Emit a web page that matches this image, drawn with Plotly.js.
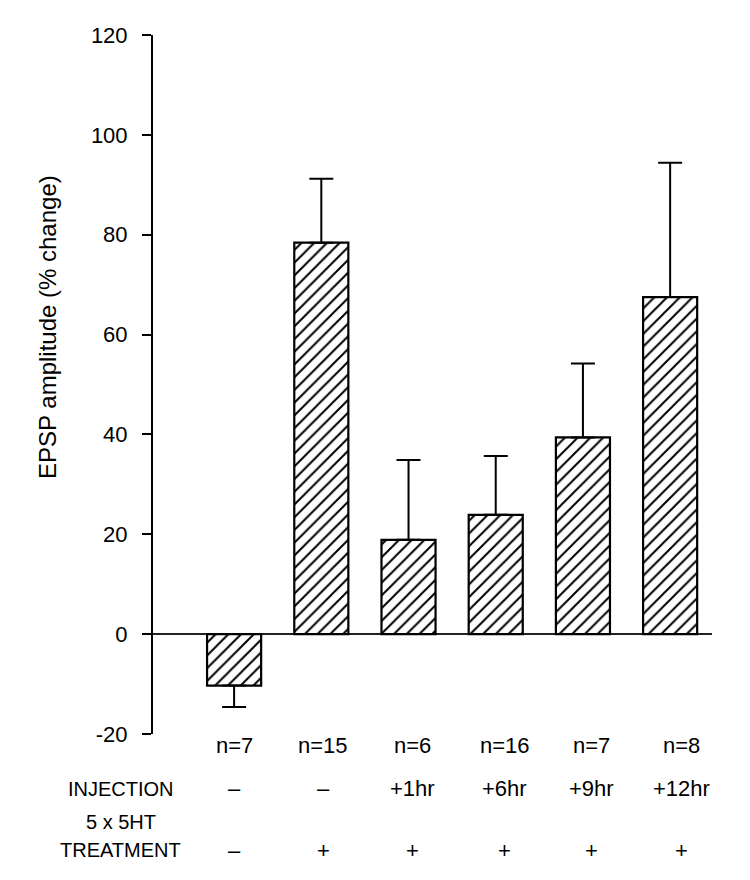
<!DOCTYPE html>
<html>
<head>
<meta charset="utf-8">
<script src="https://cdn.plot.ly/plotly-3.0.1.min.js"></script>
<style>html,body{margin:0;padding:0;background:#fff;}#chart{width:750px;height:880px;}</style>
</head>
<body>
<div id="chart"></div>
<script>
// Data
const groups = [0, 1, 2, 3, 4, 5];
const epspChange = [-10.3, 78.4, 18.9, 23.9, 39.4, 67.5];
const errUp = [0, 12.8, 16.0, 11.8, 14.8, 26.9];
const errDown = [4.3, 0, 0, 0, 0, 0];
const nLabels = ["n=7", "n=15", "n=6", "n=16", "n=7", "n=8"];
const injectionLabels = ["\u2013", "\u2013", "+1hr", "+6hr", "+9hr", "+12hr"];
const treatmentLabels = ["\u2013", "+", "+", "+", "+", "+"];
const yTickVals = [-20, 0, 20, 40, 60, 80, 100, 120];
const yTickText = ["-20", "0", "20", "40", "60", "80", "100", "120"];

// layout-only offsets (labels drift slightly right in the original)
const labelShift = [0, 2, 4, 9, 9, 11];
const font = "Liberation Sans, Arial, Helvetica, sans-serif";

const trace = {
  type: "bar",
  x: groups,
  y: epspChange,
  width: 0.62,
  marker: {
    color: "white",
    line: {color: "black", width: 2.2},
    pattern: {shape: "/", fgcolor: "black", bgcolor: "white", size: 9, solidity: 0.22, fillmode: "replace"}
  },
  error_y: {
    type: "data",
    symmetric: false,
    array: errUp,
    arrayminus: errDown,
    color: "black",
    thickness: 2,
    width: 12
  },
  hoverinfo: "skip"
};

const annotations = [];
function rowAnn(labels, yPaper, size) {
  labels.forEach((t, i) => {
    annotations.push({
      xref: "x", yref: "paper", x: groups[i], y: yPaper, xshift: labelShift[i],
      text: t, showarrow: false, xanchor: "center", yanchor: "middle",
      font: {family: font, size: size, color: "black"}
    });
  });
}
rowAnn(nLabels, -0.016, 22);
rowAnn(injectionLabels, -0.078, 22);
rowAnn(treatmentLabels, -0.166, 22);

const rowTitleX = -0.058;
annotations.push({
  xref: "paper", yref: "paper", x: rowTitleX, y: -0.078, text: "INJECTION",
  showarrow: false, xanchor: "center", yanchor: "middle",
  font: {family: font, size: 20, color: "black"}
});
annotations.push({
  xref: "paper", yref: "paper", x: rowTitleX, y: -0.126, text: "5 x 5HT",
  showarrow: false, xanchor: "center", yanchor: "middle",
  font: {family: font, size: 20, color: "black"}
});
annotations.push({
  xref: "paper", yref: "paper", x: rowTitleX, y: -0.166, text: "TREATMENT",
  showarrow: false, xanchor: "center", yanchor: "middle",
  font: {family: font, size: 20, color: "black"}
});
annotations.push({
  xref: "paper", yref: "paper", x: -0.19, y: 0.582, text: "EPSP amplitude (% change)",
  showarrow: false, textangle: -90, xanchor: "center", yanchor: "middle",
  font: {family: font, size: 24, color: "black"}
});

const layout = {
  width: 750,
  height: 880,
  margin: {l: 153, r: 38, t: 35, b: 146},
  paper_bgcolor: "white",
  plot_bgcolor: "white",
  showlegend: false,
  xaxis: {
    range: [-0.93, 5.48],
    showticklabels: false,
    ticks: "",
    showgrid: false,
    zeroline: false,
    showline: false,
    fixedrange: true
  },
  yaxis: {
    range: [-20, 120],
    tickmode: "array",
    tickvals: yTickVals,
    ticktext: yTickText,
    ticks: "outside",
    ticklen: 9,
    tickwidth: 2,
    tickcolor: "black",
    ticklabelstandoff: 10,
    showline: true,
    linecolor: "black",
    linewidth: 2,
    showgrid: false,
    zeroline: true,
    zerolinecolor: "#222",
    zerolinewidth: 1.6,
    tickfont: {family: font, size: 22, color: "black"},
    fixedrange: true
  },
  annotations: annotations
};

Plotly.newPlot("chart", [trace], layout, {displayModeBar: false, staticPlot: true});
</script>
</body>
</html>
